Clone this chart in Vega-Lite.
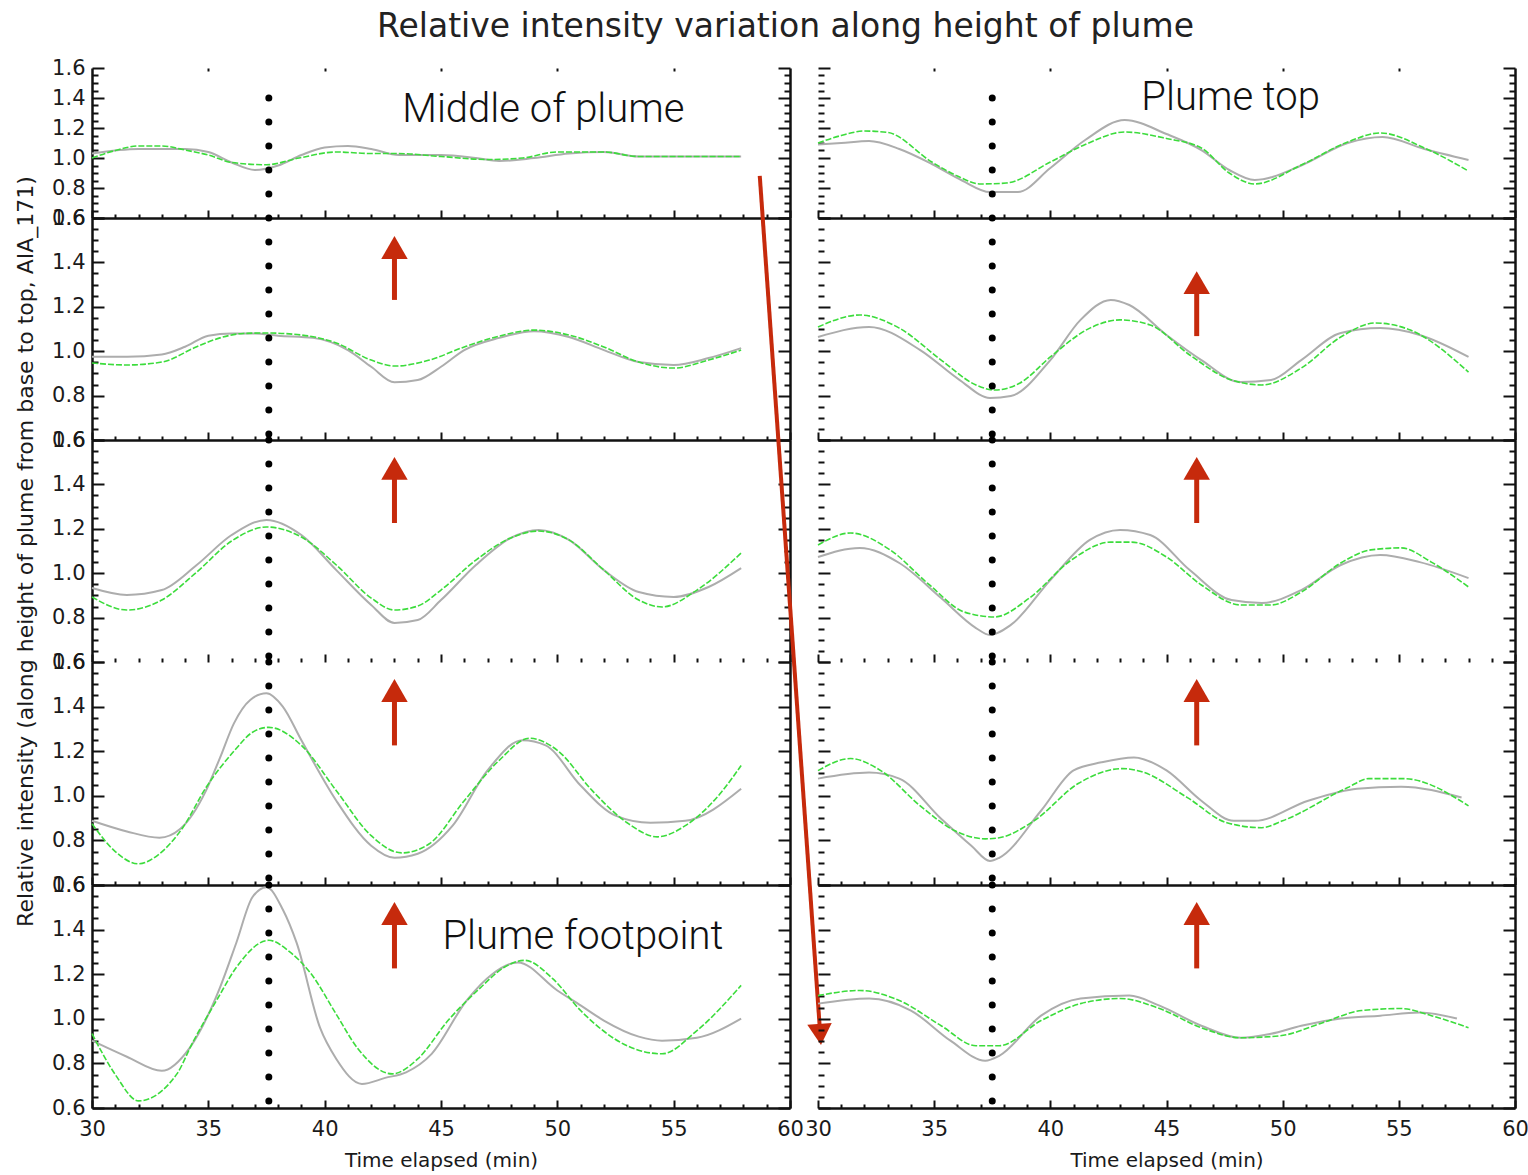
{
"$schema":"https://vega.github.io/schema/vega-lite/v6.json",
"background":"white",
"padding":{"left":14,"top":11,"right":8,"bottom":6},
"title":{"text":"Relative intensity variation along height of plume","font":"DejaVu Sans","fontSize":33,"fontWeight":"normal","color":"#222","anchor":"middle","offset":13,"dx":14},
"bounds":"flush",
"columns":2,
"spacing":{"row":0,"column":28},
"datasets":{
"blank":[{}],
"bigarrow":[{"t0":58.7,"v0":4.78,"t1":61.3,"v1":0.93}],
"arrows":[
{"c":"L","r":2,"t":43.0,"v0":1.231,"v1":1.467},
{"c":"R","r":2,"t":46.3,"v0":1.068,"v1":1.309},
{"c":"L","r":3,"t":43.0,"v0":1.226,"v1":1.472},
{"c":"R","r":3,"t":46.3,"v0":1.226,"v1":1.472},
{"c":"L","r":4,"t":43.0,"v0":1.226,"v1":1.472},
{"c":"R","r":4,"t":46.3,"v0":1.226,"v1":1.472},
{"c":"L","r":5,"t":43.0,"v0":1.226,"v1":1.472},
{"c":"R","r":5,"t":46.3,"v0":1.226,"v1":1.472}
],
"curves":[
{"c":"L","r":1,"s":"gray","t":30,"v":1.03},{"c":"L","r":1,"s":"gray","t":32,"v":1.06},{"c":"L","r":1,"s":"gray","t":34,"v":1.06},{"c":"L","r":1,"s":"gray","t":35,"v":1.04},{"c":"L","r":1,"s":"gray","t":36,"v":0.97},{"c":"L","r":1,"s":"gray","t":37,"v":0.92},{"c":"L","r":1,"s":"gray","t":38,"v":0.95},{"c":"L","r":1,"s":"gray","t":39,"v":1.02},{"c":"L","r":1,"s":"gray","t":40,"v":1.07},{"c":"L","r":1,"s":"gray","t":41,"v":1.08},{"c":"L","r":1,"s":"gray","t":42,"v":1.06},{"c":"L","r":1,"s":"gray","t":43.2,"v":1.02},{"c":"L","r":1,"s":"gray","t":45,"v":1.02},{"c":"L","r":1,"s":"gray","t":46.5,"v":1.0},{"c":"L","r":1,"s":"gray","t":47.5,"v":0.98},{"c":"L","r":1,"s":"gray","t":49,"v":1.0},{"c":"L","r":1,"s":"gray","t":50.5,"v":1.03},{"c":"L","r":1,"s":"gray","t":52,"v":1.04},{"c":"L","r":1,"s":"gray","t":53.5,"v":1.01},{"c":"L","r":1,"s":"gray","t":55.5,"v":1.01},{"c":"L","r":1,"s":"gray","t":57.9,"v":1.01},
{"c":"L","r":1,"s":"green","t":30,"v":1.0},{"c":"L","r":1,"s":"green","t":31,"v":1.05},{"c":"L","r":1,"s":"green","t":32,"v":1.08},{"c":"L","r":1,"s":"green","t":33,"v":1.08},{"c":"L","r":1,"s":"green","t":34.1,"v":1.05},{"c":"L","r":1,"s":"green","t":35,"v":1.02},{"c":"L","r":1,"s":"green","t":36,"v":0.97},{"c":"L","r":1,"s":"green","t":37.5,"v":0.955},{"c":"L","r":1,"s":"green","t":38.9,"v":1.0},{"c":"L","r":1,"s":"green","t":40.5,"v":1.04},{"c":"L","r":1,"s":"green","t":42,"v":1.03},{"c":"L","r":1,"s":"green","t":43.1,"v":1.03},{"c":"L","r":1,"s":"green","t":45,"v":1.01},{"c":"L","r":1,"s":"green","t":47,"v":0.99},{"c":"L","r":1,"s":"green","t":48.5,"v":1.0},{"c":"L","r":1,"s":"green","t":50,"v":1.04},{"c":"L","r":1,"s":"green","t":52,"v":1.04},{"c":"L","r":1,"s":"green","t":53.5,"v":1.01},{"c":"L","r":1,"s":"green","t":55.5,"v":1.01},{"c":"L","r":1,"s":"green","t":57.9,"v":1.01},
{"c":"L","r":2,"s":"gray","t":30,"v":0.975},{"c":"L","r":2,"s":"gray","t":31.5,"v":0.975},{"c":"L","r":2,"s":"gray","t":33,"v":0.985},{"c":"L","r":2,"s":"gray","t":34,"v":1.02},{"c":"L","r":2,"s":"gray","t":35,"v":1.07},{"c":"L","r":2,"s":"gray","t":36,"v":1.08},{"c":"L","r":2,"s":"gray","t":37,"v":1.08},{"c":"L","r":2,"s":"gray","t":38,"v":1.07},{"c":"L","r":2,"s":"gray","t":39.5,"v":1.06},{"c":"L","r":2,"s":"gray","t":41,"v":1.005},{"c":"L","r":2,"s":"gray","t":42,"v":0.93},{"c":"L","r":2,"s":"gray","t":43,"v":0.86},{"c":"L","r":2,"s":"gray","t":44,"v":0.87},{"c":"L","r":2,"s":"gray","t":45,"v":0.93},{"c":"L","r":2,"s":"gray","t":46,"v":1.005},{"c":"L","r":2,"s":"gray","t":47.5,"v":1.06},{"c":"L","r":2,"s":"gray","t":49,"v":1.09},{"c":"L","r":2,"s":"gray","t":50.5,"v":1.064},{"c":"L","r":2,"s":"gray","t":52,"v":1.005},{"c":"L","r":2,"s":"gray","t":53.5,"v":0.951},{"c":"L","r":2,"s":"gray","t":55,"v":0.938},{"c":"L","r":2,"s":"gray","t":56.5,"v":0.969},{"c":"L","r":2,"s":"gray","t":57.9,"v":1.014},
{"c":"L","r":2,"s":"green","t":30,"v":0.947},{"c":"L","r":2,"s":"green","t":31.5,"v":0.938},{"c":"L","r":2,"s":"green","t":33,"v":0.951},{"c":"L","r":2,"s":"green","t":34.5,"v":1.02},{"c":"L","r":2,"s":"green","t":35.5,"v":1.06},{"c":"L","r":2,"s":"green","t":36.5,"v":1.08},{"c":"L","r":2,"s":"green","t":37.5,"v":1.082},{"c":"L","r":2,"s":"green","t":39,"v":1.073},{"c":"L","r":2,"s":"green","t":40.5,"v":1.037},{"c":"L","r":2,"s":"green","t":42,"v":0.96},{"c":"L","r":2,"s":"green","t":43,"v":0.933},{"c":"L","r":2,"s":"green","t":44.5,"v":0.96},{"c":"L","r":2,"s":"green","t":46,"v":1.019},{"c":"L","r":2,"s":"green","t":47.5,"v":1.068},{"c":"L","r":2,"s":"green","t":49,"v":1.095},{"c":"L","r":2,"s":"green","t":50.5,"v":1.073},{"c":"L","r":2,"s":"green","t":52,"v":1.019},{"c":"L","r":2,"s":"green","t":53.5,"v":0.951},{"c":"L","r":2,"s":"green","t":55,"v":0.924},{"c":"L","r":2,"s":"green","t":56.5,"v":0.96},{"c":"L","r":2,"s":"green","t":57.9,"v":1.005},
{"c":"L","r":3,"s":"gray","t":30,"v":0.933},{"c":"L","r":3,"s":"gray","t":31.5,"v":0.902},{"c":"L","r":3,"s":"gray","t":33,"v":0.924},{"c":"L","r":3,"s":"gray","t":34.5,"v":1.037},{"c":"L","r":3,"s":"gray","t":36,"v":1.172},{"c":"L","r":3,"s":"gray","t":37.5,"v":1.24},{"c":"L","r":3,"s":"gray","t":39,"v":1.172},{"c":"L","r":3,"s":"gray","t":40.5,"v":1.014},{"c":"L","r":3,"s":"gray","t":42,"v":0.857},{"c":"L","r":3,"s":"gray","t":43,"v":0.776},{"c":"L","r":3,"s":"gray","t":44,"v":0.789},{"c":"L","r":3,"s":"gray","t":45,"v":0.879},{"c":"L","r":3,"s":"gray","t":46.5,"v":1.037},{"c":"L","r":3,"s":"gray","t":48,"v":1.159},{"c":"L","r":3,"s":"gray","t":49.2,"v":1.195},{"c":"L","r":3,"s":"gray","t":50.5,"v":1.15},{"c":"L","r":3,"s":"gray","t":52,"v":1.014},{"c":"L","r":3,"s":"gray","t":53.5,"v":0.915},{"c":"L","r":3,"s":"gray","t":55,"v":0.893},{"c":"L","r":3,"s":"gray","t":56.5,"v":0.938},{"c":"L","r":3,"s":"gray","t":57.9,"v":1.023},
{"c":"L","r":3,"s":"green","t":30,"v":0.893},{"c":"L","r":3,"s":"green","t":31.5,"v":0.834},{"c":"L","r":3,"s":"green","t":33,"v":0.879},{"c":"L","r":3,"s":"green","t":34.5,"v":1.005},{"c":"L","r":3,"s":"green","t":36,"v":1.145},{"c":"L","r":3,"s":"green","t":37.5,"v":1.208},{"c":"L","r":3,"s":"green","t":39,"v":1.163},{"c":"L","r":3,"s":"green","t":40.5,"v":1.037},{"c":"L","r":3,"s":"green","t":42,"v":0.888},{"c":"L","r":3,"s":"green","t":43,"v":0.834},{"c":"L","r":3,"s":"green","t":44,"v":0.852},{"c":"L","r":3,"s":"green","t":45,"v":0.924},{"c":"L","r":3,"s":"green","t":46.5,"v":1.059},{"c":"L","r":3,"s":"green","t":48,"v":1.159},{"c":"L","r":3,"s":"green","t":49.2,"v":1.19},{"c":"L","r":3,"s":"green","t":50.5,"v":1.15},{"c":"L","r":3,"s":"green","t":52,"v":1.014},{"c":"L","r":3,"s":"green","t":53.5,"v":0.879},{"c":"L","r":3,"s":"green","t":54.5,"v":0.848},{"c":"L","r":3,"s":"green","t":56,"v":0.924},{"c":"L","r":3,"s":"green","t":57.9,"v":1.091},
{"c":"L","r":4,"s":"gray","t":30,"v":0.888},{"c":"L","r":4,"s":"gray","t":31.5,"v":0.84},{"c":"L","r":4,"s":"gray","t":32.9,"v":0.812},{"c":"L","r":4,"s":"gray","t":33.8,"v":0.852},{"c":"L","r":4,"s":"gray","t":34.9,"v":1.023},{"c":"L","r":4,"s":"gray","t":35.5,"v":1.17},{"c":"L","r":4,"s":"gray","t":36.1,"v":1.325},{"c":"L","r":4,"s":"gray","t":36.8,"v":1.43},{"c":"L","r":4,"s":"gray","t":37.5,"v":1.46},{"c":"L","r":4,"s":"gray","t":38.2,"v":1.4},{"c":"L","r":4,"s":"gray","t":39,"v":1.249},{"c":"L","r":4,"s":"gray","t":40.5,"v":0.978},{"c":"L","r":4,"s":"gray","t":42,"v":0.776},{"c":"L","r":4,"s":"gray","t":43,"v":0.722},{"c":"L","r":4,"s":"gray","t":44,"v":0.74},{"c":"L","r":4,"s":"gray","t":45.5,"v":0.866},{"c":"L","r":4,"s":"gray","t":47,"v":1.114},{"c":"L","r":4,"s":"gray","t":48.5,"v":1.249},{"c":"L","r":4,"s":"gray","t":49.5,"v":1.226},{"c":"L","r":4,"s":"gray","t":51,"v":1.046},{"c":"L","r":4,"s":"gray","t":52.5,"v":0.911},{"c":"L","r":4,"s":"gray","t":54,"v":0.879},{"c":"L","r":4,"s":"gray","t":55.5,"v":0.888},{"c":"L","r":4,"s":"gray","t":57.9,"v":1.032},
{"c":"L","r":4,"s":"green","t":30,"v":0.875},{"c":"L","r":4,"s":"green","t":31,"v":0.75},{"c":"L","r":4,"s":"green","t":32,"v":0.695},{"c":"L","r":4,"s":"green","t":32.9,"v":0.74},{"c":"L","r":4,"s":"green","t":33.9,"v":0.857},{"c":"L","r":4,"s":"green","t":34.9,"v":1.037},{"c":"L","r":4,"s":"green","t":36.1,"v":1.2},{"c":"L","r":4,"s":"green","t":36.9,"v":1.285},{"c":"L","r":4,"s":"green","t":37.6,"v":1.307},{"c":"L","r":4,"s":"green","t":39,"v":1.226},{"c":"L","r":4,"s":"green","t":40.5,"v":1.023},{"c":"L","r":4,"s":"green","t":42,"v":0.821},{"c":"L","r":4,"s":"green","t":43.3,"v":0.744},{"c":"L","r":4,"s":"green","t":44.5,"v":0.785},{"c":"L","r":4,"s":"green","t":46,"v":0.978},{"c":"L","r":4,"s":"green","t":47.5,"v":1.159},{"c":"L","r":4,"s":"green","t":48.8,"v":1.258},{"c":"L","r":4,"s":"green","t":50,"v":1.204},{"c":"L","r":4,"s":"green","t":51.5,"v":1.023},{"c":"L","r":4,"s":"green","t":53,"v":0.879},{"c":"L","r":4,"s":"green","t":54.3,"v":0.816},{"c":"L","r":4,"s":"green","t":55.5,"v":0.866},{"c":"L","r":4,"s":"green","t":57,"v":1.01},{"c":"L","r":4,"s":"green","t":57.9,"v":1.136},
{"c":"L","r":5,"s":"gray","t":30,"v":0.902},{"c":"L","r":5,"s":"gray","t":31.5,"v":0.83},{"c":"L","r":5,"s":"gray","t":33,"v":0.767},{"c":"L","r":5,"s":"gray","t":34.2,"v":0.87},{"c":"L","r":5,"s":"gray","t":35.5,"v":1.14},{"c":"L","r":5,"s":"gray","t":36.2,"v":1.34},{"c":"L","r":5,"s":"gray","t":36.9,"v":1.546},{"c":"L","r":5,"s":"gray","t":37.5,"v":1.59},{"c":"L","r":5,"s":"gray","t":38.2,"v":1.49},{"c":"L","r":5,"s":"gray","t":38.8,"v":1.339},{"c":"L","r":5,"s":"gray","t":39.8,"v":0.96},{"c":"L","r":5,"s":"gray","t":40.5,"v":0.82},{"c":"L","r":5,"s":"gray","t":41.6,"v":0.708},{"c":"L","r":5,"s":"gray","t":42.6,"v":0.735},{"c":"L","r":5,"s":"gray","t":43.5,"v":0.76},{"c":"L","r":5,"s":"gray","t":44.6,"v":0.843},{"c":"L","r":5,"s":"gray","t":46.1,"v":1.082},{"c":"L","r":5,"s":"gray","t":47.2,"v":1.2},{"c":"L","r":5,"s":"gray","t":48.3,"v":1.253},{"c":"L","r":5,"s":"gray","t":50,"v":1.127},{"c":"L","r":5,"s":"gray","t":51,"v":1.06},{"c":"L","r":5,"s":"gray","t":52,"v":0.992},{"c":"L","r":5,"s":"gray","t":53.5,"v":0.92},{"c":"L","r":5,"s":"gray","t":54.5,"v":0.902},{"c":"L","r":5,"s":"gray","t":56,"v":0.915},{"c":"L","r":5,"s":"gray","t":57.9,"v":1.001},
{"c":"L","r":5,"s":"green","t":30,"v":0.933},{"c":"L","r":5,"s":"green","t":31,"v":0.75},{"c":"L","r":5,"s":"green","t":32,"v":0.632},{"c":"L","r":5,"s":"green","t":33.65,"v":0.753},{"c":"L","r":5,"s":"green","t":34.3,"v":0.888},{"c":"L","r":5,"s":"green","t":35.4,"v":1.091},{"c":"L","r":5,"s":"green","t":36.2,"v":1.23},{"c":"L","r":5,"s":"green","t":37.6,"v":1.352},{"c":"L","r":5,"s":"green","t":38.5,"v":1.3},{"c":"L","r":5,"s":"green","t":39.4,"v":1.204},{"c":"L","r":5,"s":"green","t":40.5,"v":1.02},{"c":"L","r":5,"s":"green","t":41.4,"v":0.87},{"c":"L","r":5,"s":"green","t":42.9,"v":0.753},{"c":"L","r":5,"s":"green","t":44,"v":0.82},{"c":"L","r":5,"s":"green","t":45.3,"v":0.992},{"c":"L","r":5,"s":"green","t":46.7,"v":1.14},{"c":"L","r":5,"s":"green","t":47.7,"v":1.23},{"c":"L","r":5,"s":"green","t":48.6,"v":1.262},{"c":"L","r":5,"s":"green","t":49.8,"v":1.18},{"c":"L","r":5,"s":"green","t":51,"v":1.037},{"c":"L","r":5,"s":"green","t":53,"v":0.879},{"c":"L","r":5,"s":"green","t":54.5,"v":0.843},{"c":"L","r":5,"s":"green","t":56,"v":0.947},{"c":"L","r":5,"s":"green","t":57.9,"v":1.15},
{"c":"R","r":1,"s":"gray","t":30,"v":1.09},{"c":"R","r":1,"s":"gray","t":31,"v":1.1},{"c":"R","r":1,"s":"gray","t":32.2,"v":1.113},{"c":"R","r":1,"s":"gray","t":33.5,"v":1.06},{"c":"R","r":1,"s":"gray","t":34.9,"v":0.96},{"c":"R","r":1,"s":"gray","t":36.2,"v":0.85},{"c":"R","r":1,"s":"gray","t":37.4,"v":0.773},{"c":"R","r":1,"s":"gray","t":38.6,"v":0.773},{"c":"R","r":1,"s":"gray","t":40,"v":0.933},{"c":"R","r":1,"s":"gray","t":41.5,"v":1.12},{"c":"R","r":1,"s":"gray","t":43.2,"v":1.253},{"c":"R","r":1,"s":"gray","t":45,"v":1.16},{"c":"R","r":1,"s":"gray","t":46.5,"v":1.053},{"c":"R","r":1,"s":"gray","t":47.7,"v":0.92},{"c":"R","r":1,"s":"gray","t":48.8,"v":0.853},{"c":"R","r":1,"s":"gray","t":50.8,"v":0.95},{"c":"R","r":1,"s":"gray","t":52.8,"v":1.1},{"c":"R","r":1,"s":"gray","t":54.3,"v":1.14},{"c":"R","r":1,"s":"gray","t":56.1,"v":1.06},{"c":"R","r":1,"s":"gray","t":58,"v":0.987},
{"c":"R","r":1,"s":"green","t":30,"v":1.1},{"c":"R","r":1,"s":"green","t":31,"v":1.15},{"c":"R","r":1,"s":"green","t":32,"v":1.18},{"c":"R","r":1,"s":"green","t":33,"v":1.17},{"c":"R","r":1,"s":"green","t":34.9,"v":0.973},{"c":"R","r":1,"s":"green","t":36,"v":0.88},{"c":"R","r":1,"s":"green","t":37,"v":0.827},{"c":"R","r":1,"s":"green","t":38.1,"v":0.833},{"c":"R","r":1,"s":"green","t":40,"v":0.973},{"c":"R","r":1,"s":"green","t":41.5,"v":1.09},{"c":"R","r":1,"s":"green","t":43.2,"v":1.173},{"c":"R","r":1,"s":"green","t":45,"v":1.13},{"c":"R","r":1,"s":"green","t":46.5,"v":1.067},{"c":"R","r":1,"s":"green","t":47.7,"v":0.9},{"c":"R","r":1,"s":"green","t":48.8,"v":0.827},{"c":"R","r":1,"s":"green","t":50.8,"v":0.953},{"c":"R","r":1,"s":"green","t":52.8,"v":1.107},{"c":"R","r":1,"s":"green","t":54.2,"v":1.167},{"c":"R","r":1,"s":"green","t":56.1,"v":1.067},{"c":"R","r":1,"s":"green","t":58,"v":0.913},
{"c":"R","r":2,"s":"gray","t":30,"v":1.064},{"c":"R","r":2,"s":"gray","t":32.2,"v":1.109},{"c":"R","r":2,"s":"gray","t":34.4,"v":1.005},{"c":"R","r":2,"s":"gray","t":36.1,"v":0.87},{"c":"R","r":2,"s":"gray","t":37.4,"v":0.789},{"c":"R","r":2,"s":"gray","t":38.3,"v":0.798},{"c":"R","r":2,"s":"gray","t":40,"v":0.96},{"c":"R","r":2,"s":"gray","t":41.3,"v":1.141},{"c":"R","r":2,"s":"gray","t":42.6,"v":1.231},{"c":"R","r":2,"s":"gray","t":43.4,"v":1.208},{"c":"R","r":2,"s":"gray","t":45,"v":1.073},{"c":"R","r":2,"s":"gray","t":46.5,"v":0.96},{"c":"R","r":2,"s":"gray","t":48.2,"v":0.861},{"c":"R","r":2,"s":"gray","t":49.5,"v":0.87},{"c":"R","r":2,"s":"gray","t":50.8,"v":0.96},{"c":"R","r":2,"s":"gray","t":52.5,"v":1.082},{"c":"R","r":2,"s":"gray","t":54.2,"v":1.104},{"c":"R","r":2,"s":"gray","t":55.9,"v":1.073},{"c":"R","r":2,"s":"gray","t":58,"v":0.974},
{"c":"R","r":2,"s":"green","t":30,"v":1.109},{"c":"R","r":2,"s":"green","t":31.8,"v":1.163},{"c":"R","r":2,"s":"green","t":33.5,"v":1.104},{"c":"R","r":2,"s":"green","t":35.3,"v":0.96},{"c":"R","r":2,"s":"green","t":36.8,"v":0.848},{"c":"R","r":2,"s":"green","t":37.6,"v":0.825},{"c":"R","r":2,"s":"green","t":38.7,"v":0.857},{"c":"R","r":2,"s":"green","t":40,"v":0.974},{"c":"R","r":2,"s":"green","t":41.7,"v":1.104},{"c":"R","r":2,"s":"green","t":43,"v":1.141},{"c":"R","r":2,"s":"green","t":44.3,"v":1.118},{"c":"R","r":2,"s":"green","t":46,"v":0.983},{"c":"R","r":2,"s":"green","t":47.8,"v":0.87},{"c":"R","r":2,"s":"green","t":49.1,"v":0.848},{"c":"R","r":2,"s":"green","t":50.8,"v":0.924},{"c":"R","r":2,"s":"green","t":52.5,"v":1.064},{"c":"R","r":2,"s":"green","t":54,"v":1.127},{"c":"R","r":2,"s":"green","t":55.5,"v":1.095},{"c":"R","r":2,"s":"green","t":58,"v":0.906},
{"c":"R","r":3,"s":"gray","t":30,"v":1.073},{"c":"R","r":3,"s":"gray","t":31.8,"v":1.114},{"c":"R","r":3,"s":"gray","t":33.5,"v":1.046},{"c":"R","r":3,"s":"gray","t":35.3,"v":0.888},{"c":"R","r":3,"s":"gray","t":36.8,"v":0.753},{"c":"R","r":3,"s":"gray","t":37.4,"v":0.722},{"c":"R","r":3,"s":"gray","t":38.3,"v":0.767},{"c":"R","r":3,"s":"gray","t":40,"v":0.969},{"c":"R","r":3,"s":"gray","t":41.7,"v":1.15},{"c":"R","r":3,"s":"gray","t":43,"v":1.195},{"c":"R","r":3,"s":"gray","t":44.3,"v":1.172},{"c":"R","r":3,"s":"gray","t":46,"v":1.014},{"c":"R","r":3,"s":"gray","t":47.8,"v":0.879},{"c":"R","r":3,"s":"gray","t":49.1,"v":0.866},{"c":"R","r":3,"s":"gray","t":50.8,"v":0.924},{"c":"R","r":3,"s":"gray","t":52.5,"v":1.037},{"c":"R","r":3,"s":"gray","t":54.2,"v":1.082},{"c":"R","r":3,"s":"gray","t":55.9,"v":1.05},{"c":"R","r":3,"s":"gray","t":58,"v":0.978},
{"c":"R","r":3,"s":"green","t":30,"v":1.127},{"c":"R","r":3,"s":"green","t":31.4,"v":1.181},{"c":"R","r":3,"s":"green","t":33.1,"v":1.105},{"c":"R","r":3,"s":"green","t":34.8,"v":0.947},{"c":"R","r":3,"s":"green","t":36.3,"v":0.825},{"c":"R","r":3,"s":"green","t":37.6,"v":0.803},{"c":"R","r":3,"s":"green","t":39.1,"v":0.888},{"c":"R","r":3,"s":"green","t":40.9,"v":1.059},{"c":"R","r":3,"s":"green","t":42.6,"v":1.14},{"c":"R","r":3,"s":"green","t":43.5,"v":1.14},{"c":"R","r":3,"s":"green","t":45,"v":1.073},{"c":"R","r":3,"s":"green","t":46.5,"v":0.947},{"c":"R","r":3,"s":"green","t":48.2,"v":0.857},{"c":"R","r":3,"s":"green","t":49.5,"v":0.857},{"c":"R","r":3,"s":"green","t":50.8,"v":0.915},{"c":"R","r":3,"s":"green","t":52.5,"v":1.046},{"c":"R","r":3,"s":"green","t":53.8,"v":1.105},{"c":"R","r":3,"s":"green","t":55.1,"v":1.114},{"c":"R","r":3,"s":"green","t":56.4,"v":1.05},{"c":"R","r":3,"s":"green","t":58,"v":0.938},
{"c":"R","r":4,"s":"gray","t":30,"v":1.077},{"c":"R","r":4,"s":"gray","t":32.2,"v":1.104},{"c":"R","r":4,"s":"gray","t":33.5,"v":1.077},{"c":"R","r":4,"s":"gray","t":35.3,"v":0.897},{"c":"R","r":4,"s":"gray","t":36.6,"v":0.776},{"c":"R","r":4,"s":"gray","t":37.4,"v":0.708},{"c":"R","r":4,"s":"gray","t":37.8,"v":0.722},{"c":"R","r":4,"s":"gray","t":39.6,"v":0.933},{"c":"R","r":4,"s":"gray","t":41,"v":1.114},{"c":"R","r":4,"s":"gray","t":42.2,"v":1.15},{"c":"R","r":4,"s":"gray","t":43.6,"v":1.172},{"c":"R","r":4,"s":"gray","t":45,"v":1.114},{"c":"R","r":4,"s":"gray","t":46.5,"v":0.978},{"c":"R","r":4,"s":"gray","t":47.9,"v":0.888},{"c":"R","r":4,"s":"gray","t":48.8,"v":0.888},{"c":"R","r":4,"s":"gray","t":51.1,"v":0.978},{"c":"R","r":4,"s":"gray","t":53.2,"v":1.032},{"c":"R","r":4,"s":"gray","t":55.1,"v":1.041},{"c":"R","r":4,"s":"gray","t":57.7,"v":0.992},
{"c":"R","r":4,"s":"green","t":30,"v":1.113},{"c":"R","r":4,"s":"green","t":31.4,"v":1.167},{"c":"R","r":4,"s":"green","t":32.7,"v":1.113},{"c":"R","r":4,"s":"green","t":34.4,"v":0.955},{"c":"R","r":4,"s":"green","t":35.9,"v":0.843},{"c":"R","r":4,"s":"green","t":37.2,"v":0.807},{"c":"R","r":4,"s":"green","t":37.8,"v":0.812},{"c":"R","r":4,"s":"green","t":39.3,"v":0.888},{"c":"R","r":4,"s":"green","t":41.2,"v":1.055},{"c":"R","r":4,"s":"green","t":43.1,"v":1.122},{"c":"R","r":4,"s":"green","t":43.9,"v":1.109},{"c":"R","r":4,"s":"green","t":45.9,"v":0.992},{"c":"R","r":4,"s":"green","t":47.6,"v":0.879},{"c":"R","r":4,"s":"green","t":49.1,"v":0.857},{"c":"R","r":4,"s":"green","t":50,"v":0.888},{"c":"R","r":4,"s":"green","t":52.8,"v":1.037},{"c":"R","r":4,"s":"green","t":53.7,"v":1.077},{"c":"R","r":4,"s":"green","t":55.2,"v":1.077},{"c":"R","r":4,"s":"green","t":58,"v":0.955},
{"c":"R","r":5,"s":"gray","t":30,"v":1.068},{"c":"R","r":5,"s":"gray","t":32.2,"v":1.091},{"c":"R","r":5,"s":"gray","t":34,"v":1.037},{"c":"R","r":5,"s":"gray","t":35.7,"v":0.902},{"c":"R","r":5,"s":"gray","t":37.2,"v":0.812},{"c":"R","r":5,"s":"gray","t":37.8,"v":0.834},{"c":"R","r":5,"s":"gray","t":39.6,"v":1.014},{"c":"R","r":5,"s":"gray","t":41.3,"v":1.091},{"c":"R","r":5,"s":"gray","t":43.4,"v":1.104},{"c":"R","r":5,"s":"gray","t":44.7,"v":1.059},{"c":"R","r":5,"s":"gray","t":46.5,"v":0.969},{"c":"R","r":5,"s":"gray","t":48.2,"v":0.915},{"c":"R","r":5,"s":"gray","t":49.5,"v":0.933},{"c":"R","r":5,"s":"gray","t":50.8,"v":0.969},{"c":"R","r":5,"s":"gray","t":52.5,"v":1.001},{"c":"R","r":5,"s":"gray","t":54.2,"v":1.014},{"c":"R","r":5,"s":"gray","t":55.9,"v":1.028},{"c":"R","r":5,"s":"gray","t":57.5,"v":1.001},
{"c":"R","r":5,"s":"green","t":30,"v":1.104},{"c":"R","r":5,"s":"green","t":31.8,"v":1.127},{"c":"R","r":5,"s":"green","t":33.5,"v":1.082},{"c":"R","r":5,"s":"green","t":35.3,"v":0.969},{"c":"R","r":5,"s":"green","t":36.8,"v":0.879},{"c":"R","r":5,"s":"green","t":37.8,"v":0.879},{"c":"R","r":5,"s":"green","t":39.6,"v":0.992},{"c":"R","r":5,"s":"green","t":41.3,"v":1.068},{"c":"R","r":5,"s":"green","t":43,"v":1.091},{"c":"R","r":5,"s":"green","t":44.7,"v":1.046},{"c":"R","r":5,"s":"green","t":46.5,"v":0.96},{"c":"R","r":5,"s":"green","t":48.2,"v":0.915},{"c":"R","r":5,"s":"green","t":49.9,"v":0.924},{"c":"R","r":5,"s":"green","t":51.6,"v":0.978},{"c":"R","r":5,"s":"green","t":53.4,"v":1.037},{"c":"R","r":5,"s":"green","t":55.1,"v":1.046},{"c":"R","r":5,"s":"green","t":56.4,"v":1.014},{"c":"R","r":5,"s":"green","t":58,"v":0.96}
]
},
"concat":[
{"width":698,"height":150,"resolve":{"axis":{"x":"independent","y":"independent"}},"layer":[
 {"data":{"name":"curves"},"transform":[{"filter":"datum.c=='L'&&datum.r==1&&datum.s=='gray'"}],"mark":{"type":"line","color":"#adadad","strokeWidth":2,"interpolate":"monotone"},"encoding":{"x":{"field":"t","type":"quantitative","scale":{"domain":[30,60],"nice":false,"zero":false},"axis":{"orient":"bottom","values":[30,31,32,33,34,35,36,37,38,39,40,41,42,43,44,45,46,47,48,49,50,51,52,53,54,55,56,57,58,59,60],"tickSize":{"condition":{"test":"datum.value%5==0","value":-8},"value":-4},"labels":false,"title":null}},"y":{"field":"v","type":"quantitative","scale":{"domain":[0.6,1.6],"nice":false,"zero":false},"axis":{"orient":"left","values":[0.6,0.65,0.7,0.75,0.8,0.85,0.9,0.95,1,1.05,1.1,1.15,1.2,1.25,1.3,1.35,1.4,1.45,1.5,1.55,1.6],"tickSize":{"condition":{"test":"abs(datum.value*5-round(datum.value*5))<0.01","value":-12},"value":-6},"labelExpr":"abs(datum.value*5-round(datum.value*5))<0.01 ? format(datum.value,'.1f') : ''","labelPadding":19,"title":null}}}},
 {"data":{"name":"curves"},"transform":[{"filter":"datum.c=='L'&&datum.r==1&&datum.s=='green'"}],"mark":{"type":"line","color":"#3cdc3c","strokeWidth":1.6,"strokeDash":[6,2],"interpolate":"monotone"},"encoding":{"x":{"field":"t","type":"quantitative","axis":{"orient":"top","values":[35,40,45,50,55],"tickSize":-3,"labels":false,"domain":false,"title":null}},"y":{"field":"v","type":"quantitative","axis":{"orient":"right","values":[0.6,0.65,0.7,0.75,0.8,0.85,0.9,0.95,1,1.05,1.1,1.15,1.2,1.25,1.3,1.35,1.4,1.45,1.5,1.55,1.6],"tickSize":{"condition":{"test":"abs(datum.value*5-round(datum.value*5))<0.01","value":-12},"value":-6},"labels":false,"title":null}}}},
 {"data":{"name":"blank"},"mark":{"type":"rule","color":"#000","strokeWidth":7,"strokeCap":"round","strokeDash":[0,24]},"encoding":{"x":{"datum":37.6,"axis":null},"y":{"datum":1.4,"axis":null},"y2":{"datum":0.6}}},
 {"data":{"name":"blank"},"mark":{"type":"text","text":"Middle of plume","font":"Roboto","fontWeight":300,"fontSize":40,"color":"#111","align":"center","baseline":"middle"},"encoding":{"x":{"datum":49.4,"axis":null},"y":{"datum":1.32,"axis":null}}}
]},
{"width":697,"height":150,"resolve":{"axis":{"x":"independent","y":"independent"}},"layer":[
 {"data":{"name":"curves"},"transform":[{"filter":"datum.c=='R'&&datum.r==1&&datum.s=='gray'"}],"mark":{"type":"line","color":"#adadad","strokeWidth":2,"interpolate":"monotone"},"encoding":{"x":{"field":"t","type":"quantitative","scale":{"domain":[30,60],"nice":false,"zero":false},"axis":{"orient":"bottom","values":[30,31,32,33,34,35,36,37,38,39,40,41,42,43,44,45,46,47,48,49,50,51,52,53,54,55,56,57,58,59,60],"tickSize":{"condition":{"test":"datum.value%5==0","value":-8},"value":-4},"labels":false,"title":null}},"y":{"field":"v","type":"quantitative","scale":{"domain":[0.6,1.6],"nice":false,"zero":false},"axis":{"orient":"left","values":[0.6,0.65,0.7,0.75,0.8,0.85,0.9,0.95,1,1.05,1.1,1.15,1.2,1.25,1.3,1.35,1.4,1.45,1.5,1.55,1.6],"tickSize":{"condition":{"test":"abs(datum.value*5-round(datum.value*5))<0.01","value":-12},"value":-6},"labels":false,"domain":false,"title":null}}}},
 {"data":{"name":"curves"},"transform":[{"filter":"datum.c=='R'&&datum.r==1&&datum.s=='green'"}],"mark":{"type":"line","color":"#3cdc3c","strokeWidth":1.6,"strokeDash":[6,2],"interpolate":"monotone"},"encoding":{"x":{"field":"t","type":"quantitative","axis":{"orient":"top","values":[35,40,45,50,55],"tickSize":-3,"labels":false,"domain":false,"title":null}},"y":{"field":"v","type":"quantitative","axis":{"orient":"right","values":[0.6,0.65,0.7,0.75,0.8,0.85,0.9,0.95,1,1.05,1.1,1.15,1.2,1.25,1.3,1.35,1.4,1.45,1.5,1.55,1.6],"tickSize":{"condition":{"test":"abs(datum.value*5-round(datum.value*5))<0.01","value":-12},"value":-6},"labels":false,"title":null}}}},
 {"data":{"name":"blank"},"mark":{"type":"rule","color":"#000","strokeWidth":7,"strokeCap":"round","strokeDash":[0,24]},"encoding":{"x":{"datum":37.5,"axis":null},"y":{"datum":1.4,"axis":null},"y2":{"datum":0.6}}},
 {"data":{"name":"blank"},"mark":{"type":"text","text":"Plume top","font":"Roboto","fontWeight":300,"fontSize":40,"color":"#111","align":"center","baseline":"middle"},"encoding":{"x":{"datum":47.76,"axis":null},"y":{"datum":1.4,"axis":null}}}
]},
{"width":698,"height":222,"resolve":{"axis":{"x":"independent","y":"independent"}},"layer":[
 {"data":{"name":"curves"},"transform":[{"filter":"datum.c=='L'&&datum.r==2&&datum.s=='gray'"}],"mark":{"type":"line","color":"#adadad","strokeWidth":2,"interpolate":"monotone"},"encoding":{"x":{"field":"t","type":"quantitative","scale":{"domain":[30,60],"nice":false,"zero":false},"axis":{"orient":"bottom","values":[30,31,32,33,34,35,36,37,38,39,40,41,42,43,44,45,46,47,48,49,50,51,52,53,54,55,56,57,58,59,60],"tickSize":{"condition":{"test":"datum.value%5==0","value":-8},"value":-4},"labels":false,"title":null}},"y":{"field":"v","type":"quantitative","scale":{"domain":[0.6,1.6],"nice":false,"zero":false},"axis":{"orient":"left","values":[0.6,0.65,0.7,0.75,0.8,0.85,0.9,0.95,1,1.05,1.1,1.15,1.2,1.25,1.3,1.35,1.4,1.45,1.5,1.55,1.6],"tickSize":{"condition":{"test":"abs(datum.value*5-round(datum.value*5))<0.01","value":-12},"value":-6},"labelExpr":"abs(datum.value*5-round(datum.value*5))<0.01 ? format(datum.value,'.1f') : ''","labelPadding":19,"title":null}}}},
 {"data":{"name":"curves"},"transform":[{"filter":"datum.c=='L'&&datum.r==2&&datum.s=='green'"}],"mark":{"type":"line","color":"#3cdc3c","strokeWidth":1.6,"strokeDash":[6,2],"interpolate":"monotone"},"encoding":{"x":{"field":"t","type":"quantitative","axis":null},"y":{"field":"v","type":"quantitative","axis":{"orient":"right","values":[0.6,0.65,0.7,0.75,0.8,0.85,0.9,0.95,1,1.05,1.1,1.15,1.2,1.25,1.3,1.35,1.4,1.45,1.5,1.55,1.6],"tickSize":{"condition":{"test":"abs(datum.value*5-round(datum.value*5))<0.01","value":-12},"value":-6},"labels":false,"title":null}}}},
 {"data":{"name":"blank"},"mark":{"type":"rule","color":"#000","strokeWidth":7,"strokeCap":"round","strokeDash":[0,24]},"encoding":{"x":{"datum":37.6,"axis":null},"y":{"datum":1.6,"axis":null},"y2":{"datum":0.6}}},
 {"data":{"name":"arrows"},"transform":[{"filter":"datum.c=='L'&&datum.r==2"}],"mark":{"type":"rule","color":"#c62a0c","strokeWidth":5},"encoding":{"x":{"field":"t","type":"quantitative","axis":null},"y":{"field":"v0","type":"quantitative","axis":null},"y2":{"field":"v1"}}},
 {"data":{"name":"arrows"},"transform":[{"filter":"datum.c=='L'&&datum.r==2"}],"mark":{"type":"point","shape":"triangle-up","filled":true,"size":700,"color":"#c62a0c","opacity":1},"encoding":{"x":{"field":"t","type":"quantitative","axis":null},"y":{"field":"v1","type":"quantitative","axis":null}}}
]},
{"width":697,"height":222,"resolve":{"axis":{"x":"independent","y":"independent"}},"layer":[
 {"data":{"name":"curves"},"transform":[{"filter":"datum.c=='R'&&datum.r==2&&datum.s=='gray'"}],"mark":{"type":"line","color":"#adadad","strokeWidth":2,"interpolate":"monotone"},"encoding":{"x":{"field":"t","type":"quantitative","scale":{"domain":[30,60],"nice":false,"zero":false},"axis":{"orient":"bottom","values":[30,31,32,33,34,35,36,37,38,39,40,41,42,43,44,45,46,47,48,49,50,51,52,53,54,55,56,57,58,59,60],"tickSize":{"condition":{"test":"datum.value%5==0","value":-8},"value":-4},"labels":false,"title":null}},"y":{"field":"v","type":"quantitative","scale":{"domain":[0.6,1.6],"nice":false,"zero":false},"axis":{"orient":"left","values":[0.6,0.65,0.7,0.75,0.8,0.85,0.9,0.95,1,1.05,1.1,1.15,1.2,1.25,1.3,1.35,1.4,1.45,1.5,1.55,1.6],"tickSize":{"condition":{"test":"abs(datum.value*5-round(datum.value*5))<0.01","value":-12},"value":-6},"labels":false,"domain":false,"title":null}}}},
 {"data":{"name":"curves"},"transform":[{"filter":"datum.c=='R'&&datum.r==2&&datum.s=='green'"}],"mark":{"type":"line","color":"#3cdc3c","strokeWidth":1.6,"strokeDash":[6,2],"interpolate":"monotone"},"encoding":{"x":{"field":"t","type":"quantitative","axis":null},"y":{"field":"v","type":"quantitative","axis":{"orient":"right","values":[0.6,0.65,0.7,0.75,0.8,0.85,0.9,0.95,1,1.05,1.1,1.15,1.2,1.25,1.3,1.35,1.4,1.45,1.5,1.55,1.6],"tickSize":{"condition":{"test":"abs(datum.value*5-round(datum.value*5))<0.01","value":-12},"value":-6},"labels":false,"title":null}}}},
 {"data":{"name":"blank"},"mark":{"type":"rule","color":"#000","strokeWidth":7,"strokeCap":"round","strokeDash":[0,24]},"encoding":{"x":{"datum":37.5,"axis":null},"y":{"datum":1.6,"axis":null},"y2":{"datum":0.6}}},
 {"data":{"name":"arrows"},"transform":[{"filter":"datum.c=='R'&&datum.r==2"}],"mark":{"type":"rule","color":"#c62a0c","strokeWidth":5},"encoding":{"x":{"field":"t","type":"quantitative","axis":null},"y":{"field":"v0","type":"quantitative","axis":null},"y2":{"field":"v1"}}},
 {"data":{"name":"arrows"},"transform":[{"filter":"datum.c=='R'&&datum.r==2"}],"mark":{"type":"point","shape":"triangle-up","filled":true,"size":700,"color":"#c62a0c","opacity":1},"encoding":{"x":{"field":"t","type":"quantitative","axis":null},"y":{"field":"v1","type":"quantitative","axis":null}}}
]},
{"width":698,"height":222,"resolve":{"axis":{"x":"independent","y":"independent"}},"layer":[
 {"data":{"name":"curves"},"transform":[{"filter":"datum.c=='L'&&datum.r==3&&datum.s=='gray'"}],"mark":{"type":"line","color":"#adadad","strokeWidth":2,"interpolate":"monotone"},"encoding":{"x":{"field":"t","type":"quantitative","scale":{"domain":[30,60],"nice":false,"zero":false},"axis":{"orient":"bottom","values":[30,31,32,33,34,35,36,37,38,39,40,41,42,43,44,45,46,47,48,49,50,51,52,53,54,55,56,57,58,59,60],"tickSize":{"condition":{"test":"datum.value%5==0","value":-8},"value":-4},"labels":false,"domain":false,"title":null}},"y":{"field":"v","type":"quantitative","scale":{"domain":[0.6,1.6],"nice":false,"zero":false},"axis":{"orient":"left","values":[0.6,0.65,0.7,0.75,0.8,0.85,0.9,0.95,1,1.05,1.1,1.15,1.2,1.25,1.3,1.35,1.4,1.45,1.5,1.55,1.6],"tickSize":{"condition":{"test":"abs(datum.value*5-round(datum.value*5))<0.01","value":-12},"value":-6},"labelExpr":"abs(datum.value*5-round(datum.value*5))<0.01 ? format(datum.value,'.1f') : ''","labelPadding":19,"title":"Relative intensity (along height of plume from base to top, AIA_171)","titleFontSize":22,"titlePadding":14}}}},
 {"data":{"name":"curves"},"transform":[{"filter":"datum.c=='L'&&datum.r==3&&datum.s=='green'"}],"mark":{"type":"line","color":"#3cdc3c","strokeWidth":1.6,"strokeDash":[6,2],"interpolate":"monotone"},"encoding":{"x":{"field":"t","type":"quantitative","axis":null},"y":{"field":"v","type":"quantitative","axis":{"orient":"right","values":[0.6,0.65,0.7,0.75,0.8,0.85,0.9,0.95,1,1.05,1.1,1.15,1.2,1.25,1.3,1.35,1.4,1.45,1.5,1.55,1.6],"tickSize":{"condition":{"test":"abs(datum.value*5-round(datum.value*5))<0.01","value":-12},"value":-6},"labels":false,"title":null}}}},
 {"data":{"name":"blank"},"mark":{"type":"rule","color":"#000","strokeWidth":7,"strokeCap":"round","strokeDash":[0,24]},"encoding":{"x":{"datum":37.6,"axis":null},"y":{"datum":1.6,"axis":null},"y2":{"datum":0.6}}},
 {"data":{"name":"arrows"},"transform":[{"filter":"datum.c=='L'&&datum.r==3"}],"mark":{"type":"rule","color":"#c62a0c","strokeWidth":5},"encoding":{"x":{"field":"t","type":"quantitative","axis":null},"y":{"field":"v0","type":"quantitative","axis":null},"y2":{"field":"v1"}}},
 {"data":{"name":"arrows"},"transform":[{"filter":"datum.c=='L'&&datum.r==3"}],"mark":{"type":"point","shape":"triangle-up","filled":true,"size":700,"color":"#c62a0c","opacity":1},"encoding":{"x":{"field":"t","type":"quantitative","axis":null},"y":{"field":"v1","type":"quantitative","axis":null}}}
]},
{"width":697,"height":222,"resolve":{"axis":{"x":"independent","y":"independent"}},"layer":[
 {"data":{"name":"curves"},"transform":[{"filter":"datum.c=='R'&&datum.r==3&&datum.s=='gray'"}],"mark":{"type":"line","color":"#adadad","strokeWidth":2,"interpolate":"monotone"},"encoding":{"x":{"field":"t","type":"quantitative","scale":{"domain":[30,60],"nice":false,"zero":false},"axis":{"orient":"bottom","values":[30,31,32,33,34,35,36,37,38,39,40,41,42,43,44,45,46,47,48,49,50,51,52,53,54,55,56,57,58,59,60],"tickSize":{"condition":{"test":"datum.value%5==0","value":-8},"value":-4},"labels":false,"domain":false,"title":null}},"y":{"field":"v","type":"quantitative","scale":{"domain":[0.6,1.6],"nice":false,"zero":false},"axis":{"orient":"left","values":[0.6,0.65,0.7,0.75,0.8,0.85,0.9,0.95,1,1.05,1.1,1.15,1.2,1.25,1.3,1.35,1.4,1.45,1.5,1.55,1.6],"tickSize":{"condition":{"test":"abs(datum.value*5-round(datum.value*5))<0.01","value":-12},"value":-6},"labels":false,"domain":false,"title":null}}}},
 {"data":{"name":"curves"},"transform":[{"filter":"datum.c=='R'&&datum.r==3&&datum.s=='green'"}],"mark":{"type":"line","color":"#3cdc3c","strokeWidth":1.6,"strokeDash":[6,2],"interpolate":"monotone"},"encoding":{"x":{"field":"t","type":"quantitative","axis":null},"y":{"field":"v","type":"quantitative","axis":{"orient":"right","values":[0.6,0.65,0.7,0.75,0.8,0.85,0.9,0.95,1,1.05,1.1,1.15,1.2,1.25,1.3,1.35,1.4,1.45,1.5,1.55,1.6],"tickSize":{"condition":{"test":"abs(datum.value*5-round(datum.value*5))<0.01","value":-12},"value":-6},"labels":false,"title":null}}}},
 {"data":{"name":"blank"},"mark":{"type":"rule","color":"#000","strokeWidth":7,"strokeCap":"round","strokeDash":[0,24]},"encoding":{"x":{"datum":37.5,"axis":null},"y":{"datum":1.6,"axis":null},"y2":{"datum":0.6}}},
 {"data":{"name":"arrows"},"transform":[{"filter":"datum.c=='R'&&datum.r==3"}],"mark":{"type":"rule","color":"#c62a0c","strokeWidth":5},"encoding":{"x":{"field":"t","type":"quantitative","axis":null},"y":{"field":"v0","type":"quantitative","axis":null},"y2":{"field":"v1"}}},
 {"data":{"name":"arrows"},"transform":[{"filter":"datum.c=='R'&&datum.r==3"}],"mark":{"type":"point","shape":"triangle-up","filled":true,"size":700,"color":"#c62a0c","opacity":1},"encoding":{"x":{"field":"t","type":"quantitative","axis":null},"y":{"field":"v1","type":"quantitative","axis":null}}}
]},
{"width":698,"height":223,"resolve":{"axis":{"x":"independent","y":"independent"}},"layer":[
 {"data":{"name":"curves"},"transform":[{"filter":"datum.c=='L'&&datum.r==4&&datum.s=='gray'"}],"mark":{"type":"line","color":"#adadad","strokeWidth":2,"interpolate":"monotone"},"encoding":{"x":{"field":"t","type":"quantitative","scale":{"domain":[30,60],"nice":false,"zero":false},"axis":{"orient":"bottom","values":[30,31,32,33,34,35,36,37,38,39,40,41,42,43,44,45,46,47,48,49,50,51,52,53,54,55,56,57,58,59,60],"tickSize":{"condition":{"test":"datum.value%5==0","value":-8},"value":-4},"labels":false,"title":null}},"y":{"field":"v","type":"quantitative","scale":{"domain":[0.6,1.6],"nice":false,"zero":false},"axis":{"orient":"left","values":[0.6,0.65,0.7,0.75,0.8,0.85,0.9,0.95,1,1.05,1.1,1.15,1.2,1.25,1.3,1.35,1.4,1.45,1.5,1.55,1.6],"tickSize":{"condition":{"test":"abs(datum.value*5-round(datum.value*5))<0.01","value":-12},"value":-6},"labelExpr":"abs(datum.value*5-round(datum.value*5))<0.01 ? format(datum.value,'.1f') : ''","labelPadding":19,"title":null}}}},
 {"data":{"name":"curves"},"transform":[{"filter":"datum.c=='L'&&datum.r==4&&datum.s=='green'"}],"mark":{"type":"line","color":"#3cdc3c","strokeWidth":1.6,"strokeDash":[6,2],"interpolate":"monotone"},"encoding":{"x":{"field":"t","type":"quantitative","axis":null},"y":{"field":"v","type":"quantitative","axis":{"orient":"right","values":[0.6,0.65,0.7,0.75,0.8,0.85,0.9,0.95,1,1.05,1.1,1.15,1.2,1.25,1.3,1.35,1.4,1.45,1.5,1.55,1.6],"tickSize":{"condition":{"test":"abs(datum.value*5-round(datum.value*5))<0.01","value":-12},"value":-6},"labels":false,"title":null}}}},
 {"data":{"name":"blank"},"mark":{"type":"rule","color":"#000","strokeWidth":7,"strokeCap":"round","strokeDash":[0,24]},"encoding":{"x":{"datum":37.6,"axis":null},"y":{"datum":1.6,"axis":null},"y2":{"datum":0.6}}},
 {"data":{"name":"arrows"},"transform":[{"filter":"datum.c=='L'&&datum.r==4"}],"mark":{"type":"rule","color":"#c62a0c","strokeWidth":5},"encoding":{"x":{"field":"t","type":"quantitative","axis":null},"y":{"field":"v0","type":"quantitative","axis":null},"y2":{"field":"v1"}}},
 {"data":{"name":"arrows"},"transform":[{"filter":"datum.c=='L'&&datum.r==4"}],"mark":{"type":"point","shape":"triangle-up","filled":true,"size":700,"color":"#c62a0c","opacity":1},"encoding":{"x":{"field":"t","type":"quantitative","axis":null},"y":{"field":"v1","type":"quantitative","axis":null}}}
]},
{"width":697,"height":223,"resolve":{"axis":{"x":"independent","y":"independent"}},"layer":[
 {"data":{"name":"curves"},"transform":[{"filter":"datum.c=='R'&&datum.r==4&&datum.s=='gray'"}],"mark":{"type":"line","color":"#adadad","strokeWidth":2,"interpolate":"monotone"},"encoding":{"x":{"field":"t","type":"quantitative","scale":{"domain":[30,60],"nice":false,"zero":false},"axis":{"orient":"bottom","values":[30,31,32,33,34,35,36,37,38,39,40,41,42,43,44,45,46,47,48,49,50,51,52,53,54,55,56,57,58,59,60],"tickSize":{"condition":{"test":"datum.value%5==0","value":-8},"value":-4},"labels":false,"title":null}},"y":{"field":"v","type":"quantitative","scale":{"domain":[0.6,1.6],"nice":false,"zero":false},"axis":{"orient":"left","values":[0.6,0.65,0.7,0.75,0.8,0.85,0.9,0.95,1,1.05,1.1,1.15,1.2,1.25,1.3,1.35,1.4,1.45,1.5,1.55,1.6],"tickSize":{"condition":{"test":"abs(datum.value*5-round(datum.value*5))<0.01","value":-12},"value":-6},"labels":false,"domain":false,"title":null}}}},
 {"data":{"name":"curves"},"transform":[{"filter":"datum.c=='R'&&datum.r==4&&datum.s=='green'"}],"mark":{"type":"line","color":"#3cdc3c","strokeWidth":1.6,"strokeDash":[6,2],"interpolate":"monotone"},"encoding":{"x":{"field":"t","type":"quantitative","axis":null},"y":{"field":"v","type":"quantitative","axis":{"orient":"right","values":[0.6,0.65,0.7,0.75,0.8,0.85,0.9,0.95,1,1.05,1.1,1.15,1.2,1.25,1.3,1.35,1.4,1.45,1.5,1.55,1.6],"tickSize":{"condition":{"test":"abs(datum.value*5-round(datum.value*5))<0.01","value":-12},"value":-6},"labels":false,"title":null}}}},
 {"data":{"name":"blank"},"mark":{"type":"rule","color":"#000","strokeWidth":7,"strokeCap":"round","strokeDash":[0,24]},"encoding":{"x":{"datum":37.5,"axis":null},"y":{"datum":1.6,"axis":null},"y2":{"datum":0.6}}},
 {"data":{"name":"arrows"},"transform":[{"filter":"datum.c=='R'&&datum.r==4"}],"mark":{"type":"rule","color":"#c62a0c","strokeWidth":5},"encoding":{"x":{"field":"t","type":"quantitative","axis":null},"y":{"field":"v0","type":"quantitative","axis":null},"y2":{"field":"v1"}}},
 {"data":{"name":"arrows"},"transform":[{"filter":"datum.c=='R'&&datum.r==4"}],"mark":{"type":"point","shape":"triangle-up","filled":true,"size":700,"color":"#c62a0c","opacity":1},"encoding":{"x":{"field":"t","type":"quantitative","axis":null},"y":{"field":"v1","type":"quantitative","axis":null}}}
]},
{"width":698,"height":223,"resolve":{"axis":{"x":"independent","y":"independent"}},"layer":[
 {"data":{"name":"curves"},"transform":[{"filter":"datum.c=='L'&&datum.r==5&&datum.s=='gray'"}],"mark":{"type":"line","color":"#adadad","strokeWidth":2,"interpolate":"monotone"},"encoding":{"x":{"field":"t","type":"quantitative","scale":{"domain":[30,60],"nice":false,"zero":false},"axis":{"orient":"bottom","values":[30,31,32,33,34,35,36,37,38,39,40,41,42,43,44,45,46,47,48,49,50,51,52,53,54,55,56,57,58,59,60],"tickSize":{"condition":{"test":"datum.value%5==0","value":-8},"value":-4},"labelExpr":"datum.value%5==0 ? format(datum.value,'d') : ''","labelPadding":18,"title":"Time elapsed (min)","titleFontSize":20,"titlePadding":7}},"y":{"field":"v","type":"quantitative","scale":{"domain":[0.6,1.6],"nice":false,"zero":false},"axis":{"orient":"left","values":[0.6,0.65,0.7,0.75,0.8,0.85,0.9,0.95,1,1.05,1.1,1.15,1.2,1.25,1.3,1.35,1.4,1.45,1.5,1.55,1.6],"tickSize":{"condition":{"test":"abs(datum.value*5-round(datum.value*5))<0.01","value":-12},"value":-6},"labelExpr":"abs(datum.value*5-round(datum.value*5))<0.01 ? format(datum.value,'.1f') : ''","labelPadding":19,"title":null}}}},
 {"data":{"name":"curves"},"transform":[{"filter":"datum.c=='L'&&datum.r==5&&datum.s=='green'"}],"mark":{"type":"line","color":"#3cdc3c","strokeWidth":1.6,"strokeDash":[6,2],"interpolate":"monotone"},"encoding":{"x":{"field":"t","type":"quantitative","axis":null},"y":{"field":"v","type":"quantitative","axis":{"orient":"right","values":[0.6,0.65,0.7,0.75,0.8,0.85,0.9,0.95,1,1.05,1.1,1.15,1.2,1.25,1.3,1.35,1.4,1.45,1.5,1.55,1.6],"tickSize":{"condition":{"test":"abs(datum.value*5-round(datum.value*5))<0.01","value":-12},"value":-6},"labels":false,"title":null}}}},
 {"data":{"name":"blank"},"mark":{"type":"rule","color":"#000","strokeWidth":7,"strokeCap":"round","strokeDash":[0,24]},"encoding":{"x":{"datum":37.6,"axis":null},"y":{"datum":1.6,"axis":null},"y2":{"datum":0.6}}},
 {"data":{"name":"arrows"},"transform":[{"filter":"datum.c=='L'&&datum.r==5"}],"mark":{"type":"rule","color":"#c62a0c","strokeWidth":5},"encoding":{"x":{"field":"t","type":"quantitative","axis":null},"y":{"field":"v0","type":"quantitative","axis":null},"y2":{"field":"v1"}}},
 {"data":{"name":"arrows"},"transform":[{"filter":"datum.c=='L'&&datum.r==5"}],"mark":{"type":"point","shape":"triangle-up","filled":true,"size":700,"color":"#c62a0c","opacity":1},"encoding":{"x":{"field":"t","type":"quantitative","axis":null},"y":{"field":"v1","type":"quantitative","axis":null}}},
 {"data":{"name":"blank"},"mark":{"type":"text","text":"Plume footpoint","font":"Roboto","fontWeight":300,"fontSize":40,"color":"#111","align":"center","baseline":"middle"},"encoding":{"x":{"datum":51.1,"axis":null},"y":{"datum":1.366,"axis":null}}},
 {"data":{"name":"bigarrow"},"mark":{"type":"rule","color":"#c62a0c","strokeWidth":4},"encoding":{"x":{"field":"t0","type":"quantitative","axis":null},"y":{"field":"v0","type":"quantitative","axis":null},"x2":{"field":"t1"},"y2":{"field":"v1"}}},
 {"data":{"name":"bigarrow"},"mark":{"type":"point","shape":"triangle-down","filled":true,"size":600,"color":"#c62a0c","opacity":1,"angle":-4},"encoding":{"x":{"field":"t1","type":"quantitative","axis":null},"y":{"field":"v1","type":"quantitative","axis":null}}}
]},
{"width":697,"height":223,"resolve":{"axis":{"x":"independent","y":"independent"}},"layer":[
 {"data":{"name":"curves"},"transform":[{"filter":"datum.c=='R'&&datum.r==5&&datum.s=='gray'"}],"mark":{"type":"line","color":"#adadad","strokeWidth":2,"interpolate":"monotone"},"encoding":{"x":{"field":"t","type":"quantitative","scale":{"domain":[30,60],"nice":false,"zero":false},"axis":{"orient":"bottom","values":[30,31,32,33,34,35,36,37,38,39,40,41,42,43,44,45,46,47,48,49,50,51,52,53,54,55,56,57,58,59,60],"tickSize":{"condition":{"test":"datum.value%5==0","value":-8},"value":-4},"labelExpr":"datum.value%5==0 ? format(datum.value,'d') : ''","labelPadding":18,"title":"Time elapsed (min)","titleFontSize":20,"titlePadding":7}},"y":{"field":"v","type":"quantitative","scale":{"domain":[0.6,1.6],"nice":false,"zero":false},"axis":{"orient":"left","values":[0.6,0.65,0.7,0.75,0.8,0.85,0.9,0.95,1,1.05,1.1,1.15,1.2,1.25,1.3,1.35,1.4,1.45,1.5,1.55,1.6],"tickSize":{"condition":{"test":"abs(datum.value*5-round(datum.value*5))<0.01","value":-12},"value":-6},"labels":false,"domain":false,"title":null}}}},
 {"data":{"name":"curves"},"transform":[{"filter":"datum.c=='R'&&datum.r==5&&datum.s=='green'"}],"mark":{"type":"line","color":"#3cdc3c","strokeWidth":1.6,"strokeDash":[6,2],"interpolate":"monotone"},"encoding":{"x":{"field":"t","type":"quantitative","axis":null},"y":{"field":"v","type":"quantitative","axis":{"orient":"right","values":[0.6,0.65,0.7,0.75,0.8,0.85,0.9,0.95,1,1.05,1.1,1.15,1.2,1.25,1.3,1.35,1.4,1.45,1.5,1.55,1.6],"tickSize":{"condition":{"test":"abs(datum.value*5-round(datum.value*5))<0.01","value":-12},"value":-6},"labels":false,"title":null}}}},
 {"data":{"name":"blank"},"mark":{"type":"rule","color":"#000","strokeWidth":7,"strokeCap":"round","strokeDash":[0,24]},"encoding":{"x":{"datum":37.5,"axis":null},"y":{"datum":1.6,"axis":null},"y2":{"datum":0.6}}},
 {"data":{"name":"arrows"},"transform":[{"filter":"datum.c=='R'&&datum.r==5"}],"mark":{"type":"rule","color":"#c62a0c","strokeWidth":5},"encoding":{"x":{"field":"t","type":"quantitative","axis":null},"y":{"field":"v0","type":"quantitative","axis":null},"y2":{"field":"v1"}}},
 {"data":{"name":"arrows"},"transform":[{"filter":"datum.c=='R'&&datum.r==5"}],"mark":{"type":"point","shape":"triangle-up","filled":true,"size":700,"color":"#c62a0c","opacity":1},"encoding":{"x":{"field":"t","type":"quantitative","axis":null},"y":{"field":"v1","type":"quantitative","axis":null}}}
]}
],
"config":{
"view":{"stroke":null},
"axis":{"grid":false,"tickColor":"#111","tickWidth":2,"domainColor":"#111","domainWidth":2.5,"labelFont":"DejaVu Sans","labelFontSize":21,"labelColor":"#1a1a1a","labelFlush":false,"labelOverlap":false,"titleFont":"DejaVu Sans","titleFontWeight":"normal","titleFontSize":19,"titleColor":"#1a1a1a"}
}
}
